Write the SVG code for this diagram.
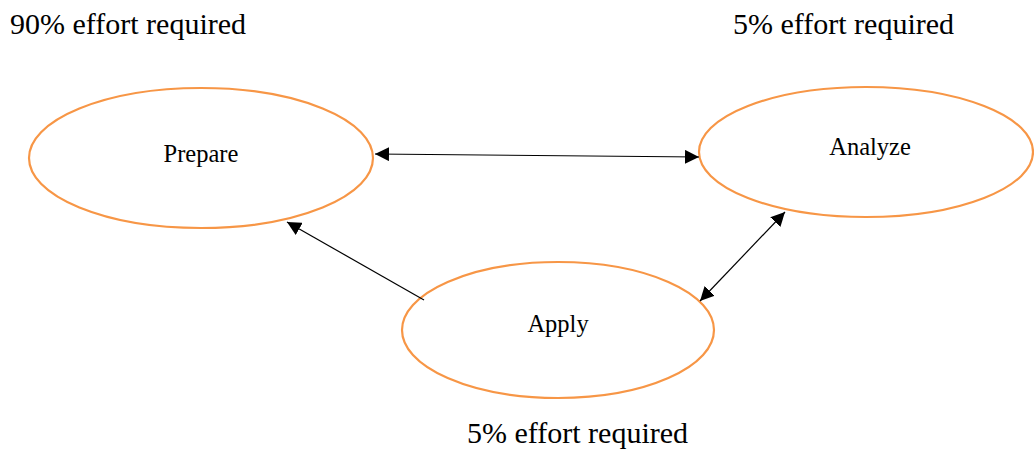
<svg xmlns="http://www.w3.org/2000/svg" width="1034" height="451" viewBox="0 0 1034 451">
<style>
.node{fill:#fff;stroke:#F79646;stroke-width:2.2}
.lbl{font-family:"Liberation Serif",serif;font-size:24.5px;fill:#000;text-anchor:middle}
.cap{font-family:"Liberation Serif",serif;font-size:30px;fill:#000}
.edge{stroke:#000;stroke-width:1.2;fill:none}
</style>
<defs>
<marker id="ah" viewBox="0 0 10 10" refX="10" refY="5" markerWidth="14" markerHeight="14" markerUnits="userSpaceOnUse" orient="auto-start-reverse">
<path d="M0,0 L10,5 L0,10 z" fill="#000"/>
</marker>
</defs>
<rect width="1034" height="451" fill="#fff"/>
<text class="cap" x="10" y="34">90% effort required</text>
<text class="cap" x="733" y="34">5% effort required</text>
<text class="cap" x="467" y="443">5% effort required</text>
<g id="prepare">
<ellipse class="node" cx="201" cy="158" rx="172" ry="70"/>
<text class="lbl" x="201" y="162">Prepare</text>
</g>
<g id="analyze">
<ellipse class="node" cx="866" cy="152" rx="167" ry="65"/>
<text class="lbl" x="870" y="155">Analyze</text>
</g>
<g id="apply">
<ellipse class="node" cx="558" cy="330" rx="156" ry="68"/>
<text class="lbl" x="558" y="332">Apply</text>
</g>
<g id="connectors">
<line class="edge" x1="375" y1="154" x2="699" y2="157" marker-start="url(#ah)" marker-end="url(#ah)"/>
<line class="edge" x1="424" y1="300" x2="287" y2="222" marker-end="url(#ah)"/>
<line class="edge" x1="785" y1="212" x2="700" y2="301" marker-start="url(#ah)" marker-end="url(#ah)"/>
</g>
</svg>
